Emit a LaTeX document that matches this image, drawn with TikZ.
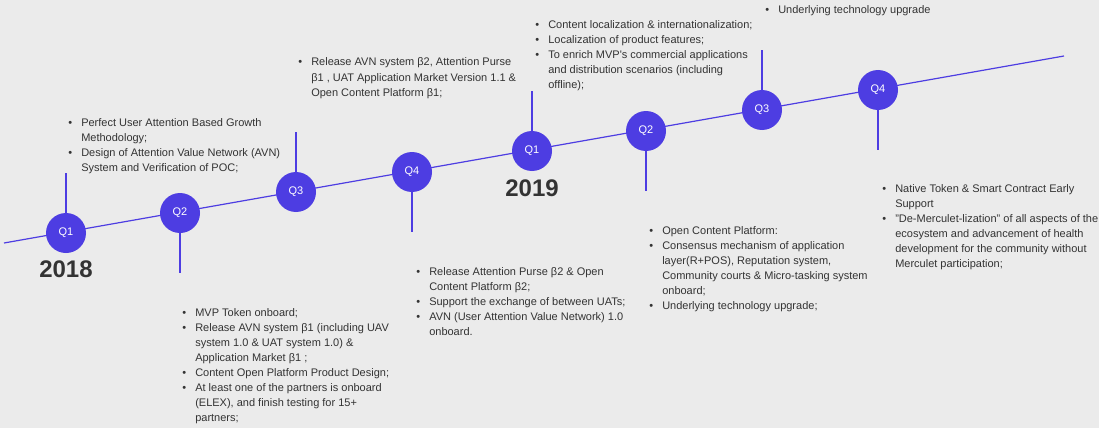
\documentclass[tikz,border=0pt]{standalone}
\usepackage{fontspec}
\setmainfont{Liberation Sans}
\usetikzlibrary{positioning}
\definecolor{qblue}{RGB}{77,61,226}
\definecolor{bggray}{RGB}{235,235,235}
\definecolor{txtgray}{RGB}{51,51,51}
\newcommand{\bul}{\llap{\textbullet\hspace{6.8pt}}}

\begin{document}
\begin{tikzpicture}[x=0.75pt, y=-0.75pt, every node/.style={font=\fontsize{8.25}{11.25}\selectfont, text=txtgray}]
            \tikzstyle{quarter}=[circle, fill=qblue, minimum size=30pt, inner sep=0pt, text=white]
            \tikzstyle{notes}=[anchor=base west, align=left, inner sep=0pt]
            \tikzstyle{year}=[font=\fontsize{18}{18}\selectfont\bfseries]
            \tikzstyle{stem}=[qblue, line width=0.9pt]
            \fill[bggray] (0,0) rectangle (1099,428);
            \useasboundingbox (0,0) rectangle (1099,428);
            \coordinate (start) at (4,243);
            \coordinate (end) at (1064,56);
            \draw[stem] (start) -- (end);
            \node[quarter] (q1a) at (66,233) {Q1};
            \node[quarter] (q2a) at (180,213) {Q2};
            \node[quarter] (q3a) at (296,192) {Q3};
            \node[quarter] (q4a) at (412,172) {Q4};
            \node[quarter] (q1b) at (532,151) {Q1};
            \node[quarter] (q2b) at (646,131) {Q2};
            \node[quarter] (q3b) at (762,110) {Q3};
            \node[quarter] (q4b) at (878,90) {Q4};
            \draw[stem] (q1a.north) -- +(0,-40);
            \draw[stem] (q2a.south) -- +(0,40);
            \draw[stem] (q3a.north) -- +(0,-40);
            \draw[stem] (q4a.south) -- +(0,40);
            \draw[stem] (q1b.north) -- +(0,-40);
            \draw[stem] (q2b.south) -- +(0,40);
            \draw[stem] (q3b.north) -- +(0,-40);
            \draw[stem] (q4b.south) -- +(0,40);
            \node[year] (y2018) at (66,269) {2018};
            \node[year] (y2019) at (532,188) {2019};
            % notes are placed at the baseline of their last line
            \node[notes] (n1a) at (81,171) {\bul Perfect User Attention Based Growth\\ Methodology;\\ \bul Design of Attention Value Network (AVN)\\ System and Verification of POC;};
            \node[notes] (n2a) at (195,421) {\bul MVP Token onboard;\\ \bul Release AVN system β1 (including UAV\\ system 1.0 \& UAT system 1.0) \&\\ Application Market β1 ;\\ \bul Content Open Platform Product Design;\\ \bul At least one of the partners is onboard\\ (ELEX), and finish testing for 15+\\ partners;};
            \node[notes] (n3a) at (311,96) {\bul Release AVN system β2, Attention Purse\\ β1 , UAT Application Market Version 1.1 \&\\ Open Content Platform β1;};
            \node[notes] (n4a) at (429,335.5) {\bul Release Attention Purse β2 \& Open\\ Content Platform β2;\\ \bul Support the exchange of between UATs;\\ \bul AVN (User Attention Value Network) 1.0\\ onboard.};
            \node[notes] (n1b) at (548,89) {\bul Content localization \& internationalization;\\ \bul Localization of product features;\\ \bul To enrich MVP\textquotesingle s commercial applications\\ and distribution scenarios (including\\ offline);};
            \node[notes] (n2b) at (662,309) {\bul Open Content Platform:\\ \bul Consensus mechanism of application\\ layer(R+POS), Reputation system,\\ Community courts \& Micro-tasking system\\ onboard;\\ \bul Underlying technology upgrade;};
            \node[notes] (n3b) at (778,14) {\bul Underlying technology upgrade};
            \node[notes] (n4b) at (895,267) {\bul Native Token \& Smart Contract Early\\ Support\\ \bul "De-Merculet-lization" of all aspects of the\\ ecosystem and advancement of health\\ development for the community without\\ Merculet participation;};
        \end{tikzpicture}
\end{document}
